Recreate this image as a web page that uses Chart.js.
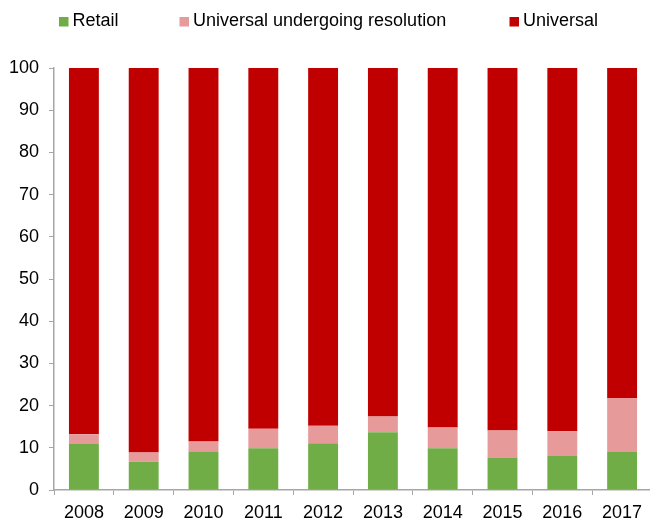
<!DOCTYPE html>
<html><head><meta charset="utf-8">
<script src="https://cdn.jsdelivr.net/npm/chart.js@4"></script>
<style>html,body{margin:0;padding:0;overflow:hidden;background:#fff}#wrap{width:654px;height:521px}</style>
</head><body><div id="wrap"><canvas id="c" width="654" height="521"></canvas></div>
<script>
const categories = ['2008','2009','2010','2011','2012','2013','2014','2015','2016','2017'];
const retail = [10.9, 6.7, 9.1, 9.9, 11.1, 13.7, 9.9, 7.7, 8.1, 9.1];
const resolution = [2.3, 2.2, 2.4, 4.6, 4.1, 3.7, 4.9, 6.4, 5.8, 12.7];
const universal = [86.8, 91.1, 88.5, 85.5, 84.8, 82.6, 85.2, 85.9, 86.1, 78.2];
const seriesNames = ['Retail', 'Universal undergoing resolution', 'Universal'];
const seriesColors = ['#70AD47', '#E69A9A', '#C00000'];
const yTickValues = [0,10,20,30,40,50,60,70,80,90,100];

const FONT = '"Liberation Sans", Arial, sans-serif';
const AXIS = '#A6A6A6';
const legendX = [59, 179.5, 509.5];

const legendPlugin = {
  id: 'customLegend',
  afterDraw(chart) {
    const ctx = chart.ctx;
    ctx.save();
    ctx.font = '18px ' + FONT;
    ctx.textBaseline = 'middle';
    ctx.textAlign = 'left';
    chart.data.datasets.forEach((ds, i) => {
      const x = legendX[i];
      ctx.fillStyle = ds.backgroundColor;
      ctx.fillRect(x, 17, 9.5, 9.5);
      ctx.fillStyle = '#000';
      ctx.fillText(ds.label, x + 13.5, 21);
    });
    ctx.restore();
  }
};

new Chart(document.getElementById('c'), {
  type: 'bar',
  data: {
    labels: categories,
    datasets: [
      { label: seriesNames[0], data: retail, backgroundColor: seriesColors[0] },
      { label: seriesNames[1], data: resolution, backgroundColor: seriesColors[1] },
      { label: seriesNames[2], data: universal, backgroundColor: seriesColors[2] }
    ]
  },
  options: {
    responsive: false,
    devicePixelRatio: 1,
    animation: false,
    layout: { padding: { top: 68, right: 2, bottom: 0, left: 0 } },
    datasets: { bar: { categoryPercentage: 1, barPercentage: 0.5, borderWidth: 0 } },
    plugins: { legend: { display: false }, tooltip: { enabled: false } },
    scales: {
      x: {
        stacked: true,
        offset: true,
        grid: { offset: true, drawOnChartArea: false, drawTicks: true, tickLength: 5, color: AXIS, lineWidth: 1 },
        border: { color: AXIS, width: 1.5 },
        ticks: { font: { family: FONT, size: 18 }, color: '#000', padding: 7, maxRotation: 0, autoSkip: false },
        afterFit(s) { s.height = 31; }
      },
      y: {
        stacked: true,
        min: 0, max: 100,
        afterBuildTicks(s) { s.ticks = yTickValues.map(v => ({ value: v })); },
        grid: { drawOnChartArea: false, drawTicks: true, tickLength: 5, color: AXIS, lineWidth: 1 },
        border: { color: AXIS, width: 1.5 },
        ticks: { font: { family: FONT, size: 18 }, color: '#000', padding: 10 },
        afterFit(s) { s.width = 54; }
      }
    }
  },
  plugins: [legendPlugin]
});
</script></body></html>
